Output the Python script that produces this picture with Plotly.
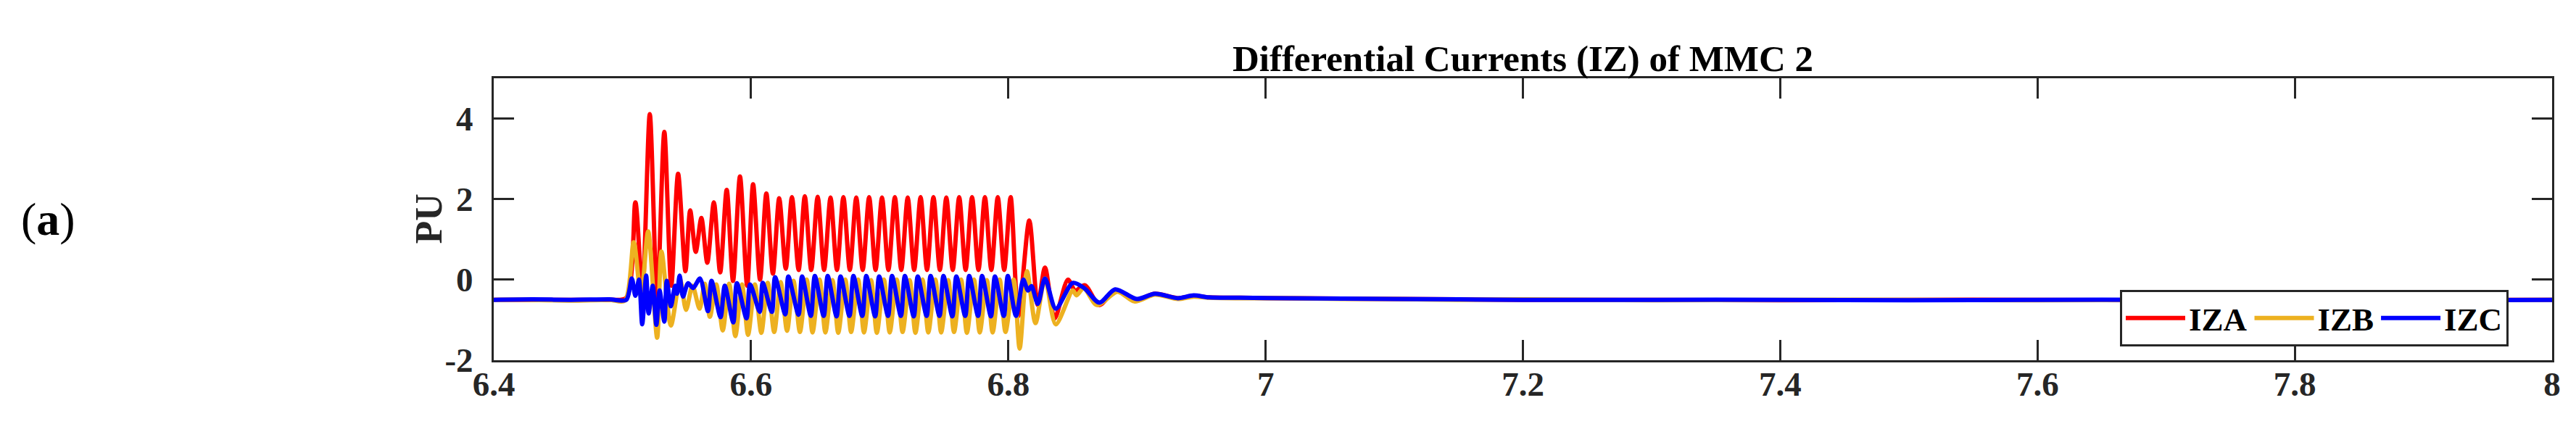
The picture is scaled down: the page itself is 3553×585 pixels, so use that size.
import plotly.graph_objects as go

# ---- data (time in s, current in pu) ----
iza_t = [6.400, 6.430, 6.460, 6.490, 6.503,
         6.5101, 6.5155, 6.5213, 6.5270, 6.5326, 6.5380, 6.5433, 6.5490, 6.5527, 6.5570,
         6.5614, 6.5660, 6.5711, 6.5760, 6.5811, 6.5860, 6.5914, 6.5970, 6.6016, 6.6070,
         6.6119, 6.6170, 6.6219, 6.6270, 6.6318, 6.6370,
         6.6418, 6.6468, 6.6518, 6.6568, 6.6618, 6.6668, 6.6718, 6.6768, 6.6818, 6.6868,
         6.6918, 6.6968, 6.7018, 6.7068, 6.7118, 6.7168, 6.7218, 6.7268, 6.7318, 6.7368,
         6.7418, 6.7468, 6.7518, 6.7568, 6.7618, 6.7668, 6.7718, 6.7768, 6.7818, 6.7868,
         6.7918, 6.7968, 6.8018,
         6.8078, 6.8163, 6.8229, 6.8285, 6.8360, 6.8463, 6.8520, 6.8595, 6.8708, 6.8830,
         6.8989, 6.9140, 6.9318, 6.9440, 6.9560,
         6.980, 7.020, 7.060, 7.100, 7.150, 7.200, 7.300, 7.400, 7.500, 7.600, 7.700, 7.800, 7.900, 8.000]
iza = [-0.50, -0.50, -0.50, -0.50, -0.45,
       1.92, -0.30, 4.11, -0.50, 3.67, -0.15, 2.63, 0.21, 1.72, 0.69,
       1.53, 0.42, 1.92, 0.18, 2.23, -0.03, 2.56, -0.15, 2.37, 0.00,
       2.14, 0.15, 2.02, 0.27, 2.05, 0.24,
       2.07, 0.24, 2.06, 0.24, 2.04, 0.24, 2.05, 0.24, 2.04, 0.24,
       2.05, 0.24, 2.04, 0.24, 2.05, 0.24, 2.04, 0.24, 2.05, 0.24,
       2.05, 0.24, 2.04, 0.24, 2.05, 0.24, 2.05, 0.24, 2.05, 0.24,
       2.05, 0.24, 2.05,
       -0.90, 1.47, -0.63, 0.30, -0.96, 0.00, -0.27, -0.14, -0.63, -0.26,
       -0.50, -0.35, -0.46, -0.40, -0.44,
       -0.45, -0.46, -0.47, -0.48, -0.49, -0.50, -0.50, -0.51, -0.50, -0.50, -0.51, -0.50, -0.50, -0.50]

izb_t = [6.400, 6.430, 6.460, 6.490, 6.502,
         6.5088, 6.5145, 6.5200, 6.5270, 6.5304, 6.5377, 6.5448, 6.5495, 6.5545, 6.5600,
         6.5640, 6.5680, 6.5730, 6.5780, 6.5830, 6.5878, 6.5930, 6.5977, 6.6030, 6.6080,
         6.6130, 6.6180, 6.6230, 6.6280, 6.6330, 6.6380,
         6.6433, 6.6478, 6.6533, 6.6578, 6.6633, 6.6678, 6.6733, 6.6778, 6.6833, 6.6878,
         6.6933, 6.6978, 6.7033, 6.7078, 6.7133, 6.7178, 6.7233, 6.7278, 6.7333, 6.7378,
         6.7433, 6.7478, 6.7533, 6.7578, 6.7633, 6.7678, 6.7733, 6.7778, 6.7833, 6.7878,
         6.7933, 6.7978,
         6.8042, 6.8088, 6.8145, 6.8211, 6.8285, 6.8369, 6.8501, 6.8530, 6.8586, 6.8689,
         6.8849, 6.8980, 6.9140, 6.9318, 6.9440, 6.9560,
         6.980, 7.020, 7.060, 7.100, 7.150, 7.200, 7.300, 7.400, 7.500, 7.600, 7.700, 7.800, 7.900, 8.000]
izb = [-0.50, -0.50, -0.52, -0.50, -0.52,
       0.93, -0.42, 1.20, -1.44, 0.70, -1.14, 0.00, -0.75, -0.15, -0.72,
       -0.10, -0.92, -0.12, -1.26, -0.10, -1.40, -0.12, -1.37, -0.12, -1.32,
       -0.08, -1.30, -0.06, -1.27, -0.03, -1.30,
       0.00, -1.31, 0.00, -1.31, -0.01, -1.32, 0.00, -1.30, 0.00, -1.31,
       -0.01, -1.32, 0.00, -1.31, 0.00, -1.30, -0.01, -1.32, 0.00, -1.31,
       0.00, -1.31, -0.01, -1.30, 0.00, -1.32, 0.00, -1.31, -0.01, -1.31,
       0.00, -1.30,
       0.00, -1.71, 0.21, -1.08, 0.03, -1.11, -0.27, -0.39, -0.21, -0.63,
       -0.30, -0.54, -0.37, -0.48, -0.42, -0.45,
       -0.46, -0.46, -0.48, -0.48, -0.50, -0.49, -0.51, -0.50, -0.50, -0.51, -0.50, -0.50, -0.51, -0.50]

izc_t = [6.400, 6.430, 6.460, 6.490, 6.503,
         6.5073, 6.5101, 6.5129, 6.5154, 6.5185, 6.5204, 6.5236, 6.5264, 6.5289, 6.5326,
         6.5345, 6.5377, 6.5410, 6.5425, 6.5445, 6.5471, 6.5510, 6.5550, 6.5603, 6.5665,
         6.5693, 6.5763, 6.5796, 6.5862, 6.5890, 6.5965, 6.5993, 6.6068, 6.6091, 6.6162,
         6.6187, 6.6266, 6.6290, 6.6369, 6.6397,
         6.6465, 6.6496, 6.6565, 6.6596, 6.6665, 6.6696, 6.6765, 6.6796, 6.6865, 6.6896,
         6.6965, 6.6996, 6.7065, 6.7096, 6.7165, 6.7196, 6.7265, 6.7296, 6.7365, 6.7396,
         6.7465, 6.7496, 6.7565, 6.7596, 6.7665, 6.7696, 6.7765, 6.7796, 6.7865, 6.7896,
         6.7965, 6.7996,
         6.8060, 6.8116, 6.8153, 6.8180, 6.8229, 6.8285, 6.8369, 6.8501, 6.8590, 6.8708,
         6.8830, 6.8998, 6.9140, 6.9318, 6.9440, 6.9560,
         6.980, 7.020, 7.060, 7.100, 7.150, 7.200, 7.300, 7.400, 7.500, 7.600, 7.700, 7.800, 7.900, 8.000]
izc = [-0.50, -0.49, -0.50, -0.49, -0.50,
       0.03, -0.40, 0.00, -1.11, 0.10, -0.84, -0.15, -1.12, -0.27, -1.04,
       -0.03, -0.66, -0.15, -0.35, 0.10, -0.42, -0.09, -0.21, 0.03, -0.78,
       -0.03, -0.93, -0.15, -1.06, -0.09, -0.96, -0.12, -0.80, -0.08, -0.80,
       0.06, -0.86, 0.08, -0.87, 0.08,
       -0.90, 0.09, -0.90, 0.09, -0.91, 0.08, -0.90, 0.09, -0.90, 0.09,
       -0.91, 0.08, -0.90, 0.09, -0.90, 0.09, -0.91, 0.08, -0.90, 0.09,
       -0.90, 0.09, -0.91, 0.08, -0.90, 0.09, -0.90, 0.09, -0.91, 0.08,
       -0.90, 0.09,
       -0.90, 0.00, -0.27, -0.16, -0.60, 0.03, -0.72, -0.08, -0.21, -0.57,
       -0.24, -0.48, -0.35, -0.46, -0.39, -0.44,
       -0.45, -0.46, -0.47, -0.48, -0.49, -0.50, -0.50, -0.50, -0.51, -0.50, -0.50, -0.50, -0.51, -0.50]

x_ticks = [6.4, 6.6, 6.8, 7.0, 7.2, 7.4, 7.6, 7.8, 8.0]
x_ticklabels = ["6.4", "6.6", "6.8", "7", "7.2", "7.4", "7.6", "7.8", "8"]
y_ticks = [-2, 0, 2, 4]
y_ticklabels = ["-2", "0", "2", "4"]

series = [("IZA", iza_t, iza, "#FF0000"),
          ("IZB", izb_t, izb, "#EDB120"),
          ("IZC", izc_t, izc, "#0000FF")]

SERIF = "Liberation Serif, Times New Roman, serif"
AXIS_COLOR = "#262626"

# plot box in pixels (from the reference)
L, R, T, B = 673, 3512, 100, 489
W, H = 3553, 585

fig = go.Figure()
for name, t, v, color in series:
    fig.add_trace(go.Scatter(x=t, y=v, mode="lines", name=name,
                             line=dict(color=color, width=6, shape="spline", smoothing=0.8)))

axis_common = dict(showline=True, linewidth=3, linecolor=AXIS_COLOR, mirror="ticks",
                   ticks="inside", ticklen=28, tickwidth=2.5, tickcolor=AXIS_COLOR,
                   showgrid=False, zeroline=False,
                   tickfont=dict(family=SERIF, size=47, color=AXIS_COLOR, weight="bold"))

fig.update_xaxes(range=[6.4, 8.0], tickvals=x_ticks, ticktext=x_ticklabels,
                 ticklabelstandoff=-10, **axis_common)
fig.update_yaxes(range=[-2, 5], tickvals=y_ticks, ticktext=y_ticklabels,
                 ticklabelstandoff=16, **axis_common)

fig.update_layout(
    width=W, height=H,
    margin=dict(l=L, r=W - R, t=T, b=H - B),
    plot_bgcolor="white", paper_bgcolor="white",
    font=dict(family=SERIF, color="black"),
    title=dict(text="Differential Currents (IZ) of MMC 2", x=0.5, xref="paper",
               y=1 - 72 / H, yref="container", yanchor="middle",
               font=dict(family=SERIF, size=51, color="black", weight="bold")),
    legend=dict(orientation="h", x=(3452 - L) / (R - L), xanchor="right",
                y=(B - 470) / (B - T), yanchor="bottom",
                itemwidth=82, tracegroupgap=0,
                bgcolor="white", bordercolor=AXIS_COLOR, borderwidth=3,
                font=dict(family=SERIF, size=45, color="black", weight="bold")),
)

# y-axis label placed where the reference has it
fig.add_annotation(text="PU", xref="paper", yref="paper",
                   x=(583 - L) / (R - L), y=0.5, xanchor="center", yanchor="middle",
                   textangle=-90, showarrow=False,
                   font=dict(family=SERIF, size=52, color=AXIS_COLOR, weight="bold"))

fig.add_annotation(text="(<b>a</b>)", xref="paper", yref="paper",
                   x=(58 - L) / (R - L), y=0.5, xanchor="center", yanchor="middle",
                   showarrow=False, font=dict(family=SERIF, size=64, color="black"))

fig.write_html("out.html")
